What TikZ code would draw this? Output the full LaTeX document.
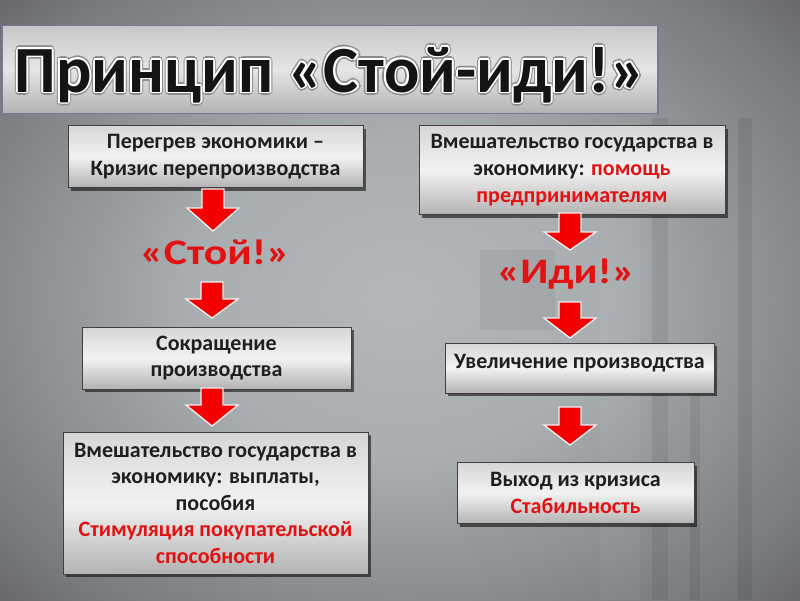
\documentclass[tikz,border=0pt]{standalone}
\usepackage{fontspec}
\setmainfont{Carlito}
\usetikzlibrary{shadows}
\definecolor{txtred}{RGB}{226,18,18}
\definecolor{arrred}{RGB}{245,0,0}
\definecolor{titleborder}{RGB}{120,120,150}
\pgfdeclareradialshading{vign}{\pgfpoint{0bp}{0bp}}{rgb(0bp)=(0.70,0.72,0.73); rgb(12bp)=(0.66,0.68,0.69); rgb(27bp)=(0.48,0.49,0.50); rgb(40bp)=(0.27,0.27,0.28); rgb(50bp)=(0.15,0.15,0.16); rgb(71bp)=(0.04,0.04,0.04)}
\newcommand\halo[4]{% #1 colour, #2 offset, #3 diagonal offset, #4 text
  \rlap{\color{#1}\hspace{#2}#4}\rlap{\color{#1}\hspace{-#2}#4}%
  \rlap{\color{#1}\raisebox{#2}{#4}}\rlap{\color{#1}\raisebox{-#2}{#4}}%
  \rlap{\color{#1}\hspace{#3}\raisebox{#3}{#4}}\rlap{\color{#1}\hspace{-#3}\raisebox{#3}{#4}}%
  \rlap{\color{#1}\hspace{#3}\raisebox{-#3}{#4}}\rlap{\color{#1}\hspace{-#3}\raisebox{-#3}{#4}}}
\newcommand\redarrow[4]{%
  \draw[arr] (#1-11,#2) -- (#1+11,#2) -- (#1+11,#3) -- (#1+26,#3) -- (#1,#4) -- (#1-26,#3) -- (#1-11,#3) -- cycle;}
\begin{document}
\begin{tikzpicture}[x=1pt,y=-1pt,
  box/.style={draw=black!75, line width=0.8pt, top color=black!16, bottom color=black!30,
    middle color=white!95!black, inner sep=0pt,
    drop shadow={shadow xshift=3pt, shadow yshift=-3pt, opacity=.55, fill=black},
    font=\bfseries\fontsize{22}{26.5}\selectfont, align=center, text=black!88},
  arr/.style={fill=arrred, draw=white!88!gray, line width=1.3pt, line join=miter},
  bigred/.style={font=\bfseries\fontsize{36}{40}\selectfont, text=txtred, inner sep=0pt},
  pole/.style={fill=black, opacity=0.07}]
\useasboundingbox (0,0) rectangle (800,600);
% background
\begin{scope}
\clip (0,0) rectangle (800,600);
\shade[shading=vign] (-40,-40) rectangle (840,640);
\end{scope}
\fill[pole] (652,118) rectangle (668,600);
\fill[pole] (690,380) rectangle (700,600);
\fill[pole] (738,118) rectangle (752,600);
\fill[black, opacity=0.05] (480,250) rectangle (555,330);
\fill[white, opacity=0.04] (600,118) rectangle (640,600);
% title
\node[draw=titleborder, line width=1.5pt, top color=black!22, bottom color=black!30,
  middle color=white!90!black, minimum width=656pt, minimum height=88pt, inner sep=0pt]
  (titlebox) at (330,69.5) {};
\node[font=\bfseries\fontsize{66}{70}\selectfont, inner sep=0pt, anchor=base, text=black!92]
  (title) at (330,92) {\halo{black!45}{3.2pt}{2.3pt}{Принцип «Стой-иди!»}\halo{white}{1.8pt}{1.3pt}{Принцип «Стой-иди!»}Принцип «Стой-иди!»};
% left column
\node[box, minimum width=295pt, minimum height=62pt] (b1) at (215.5,156.5)
  {Перегрев экономики –\\Кризис перепроизводства};
\node[bigred, anchor=base] (stoy) at (215,264) {\scalebox{1.22}[1]{«Стой!»}};
\node[box, minimum width=269pt, minimum height=62pt] (b2) at (216.5,358)
  {Сокращение\\производства};
\node[box, minimum width=305pt, minimum height=142pt] (b3) at (215.5,503)
  {Вмешательство государства в\\экономику: выплаты,\\пособия\\\textcolor{txtred}{Стимуляция покупательской}\\\textcolor{txtred}{способности}};
% right column
\node[box, minimum width=306pt, minimum height=89pt, font=\bfseries\fontsize{22}{27}\selectfont] (b4) at (572,170)
  {Вмешательство государства в\\экономику: \textcolor{txtred}{помощь}\\\textcolor{txtred}{предпринимателям}};
\node[bigred, anchor=base] (idi) at (566,283) {\scalebox{1.2}[1]{«Иди!»}};
\node[box, minimum width=269pt, minimum height=50pt] (b5) at (579.5,368) {};
\node[font=\bfseries\fontsize{22}{26}\selectfont, text=black!88, anchor=base, inner sep=0pt]
  (b5t) at (579.5,368) {Увеличение производства};
\node[box, minimum width=237pt, minimum height=61pt] (b6) at (575.5,493)
  {Выход из кризиса\\\textcolor{txtred}{Стабильность}};
% arrows
\redarrow{213}{189}{208}{231}
\redarrow{212}{282}{299}{318}
\redarrow{212}{388}{405}{426}
\redarrow{570}{213}{232}{250}
\redarrow{570}{302}{318}{338}
\redarrow{570}{407}{425}{445}
\end{tikzpicture}
\end{document}
